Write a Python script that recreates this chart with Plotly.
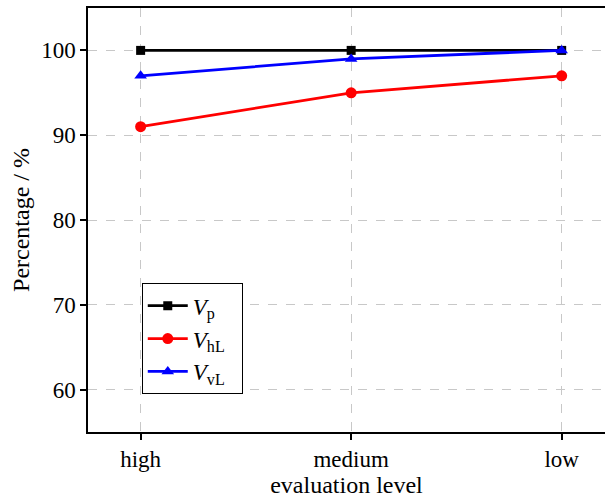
import plotly.graph_objects as go

levels = ["high", "medium", "low"]
v_p = [100, 100, 100]
v_hl = [91, 95, 97]
v_vl = [97, 99, 100]
y_ticks = [60, 70, 80, 90, 100]

FONT = "Liberation Serif"
PAD = "\u00a0\u00a0"  # keeps a little air right of the legend labels

series = [
    ("<i>V</i><sub>p</sub>", v_p, "#000000", "square", 9),
    ("<i>V</i><sub>hL</sub>", v_hl, "#ff0000", "circle", 11),
    ("<i>V</i><sub>vL</sub>", v_vl, "#0000ff", "triangle-up", 11),
]

x_idx = list(range(len(levels)))

fig = go.Figure()
for name, vals, color, symbol, size in series:
    fig.add_trace(go.Scatter(
        x=x_idx, y=vals, name=name + PAD, mode="lines+markers",
        line=dict(color=color, width=2.8),
        marker=dict(symbol=symbol, size=size, color=color),
    ))

fig.update_layout(
    width=605, height=499,
    margin=dict(l=88, r=0, t=8, b=67),
    paper_bgcolor="white", plot_bgcolor="white",
    font=dict(family=FONT, size=23, color="black"),
    showlegend=True,
    legend=dict(
        x=0.104, y=0.351, xanchor="left", yanchor="top",
        bgcolor="white", bordercolor="black", borderwidth=1,
        font=dict(family=FONT, size=23, color="black"),
        tracegroupgap=0, itemwidth=40,
    ),
)

fig.update_xaxes(
    range=[-0.25, 2.2057],
    tickmode="array", tickvals=x_idx, ticktext=levels,
    showline=True, linecolor="black", linewidth=1.5, mirror=True,
    ticks="outside", ticklen=6, tickwidth=1.5, tickcolor="black",
    showgrid=True, gridcolor="#c8c8c8", griddash="dash", gridwidth=1,
    zeroline=False,
    title=dict(text="evaluation level", standoff=2, font=dict(size=24)),
)
fig.update_yaxes(
    range=[55, 105],
    tickmode="array", tickvals=y_ticks,
    showline=True, linecolor="black", linewidth=1.5, mirror=False,
    ticks="outside", ticklen=6, tickwidth=1.5, tickcolor="black",
    showgrid=True, gridcolor="#c8c8c8", griddash="dash", gridwidth=1,
    zeroline=False,
    title=dict(text="Percentage / %", standoff=5, font=dict(size=24)),
)

fig.write_html("out.html")
